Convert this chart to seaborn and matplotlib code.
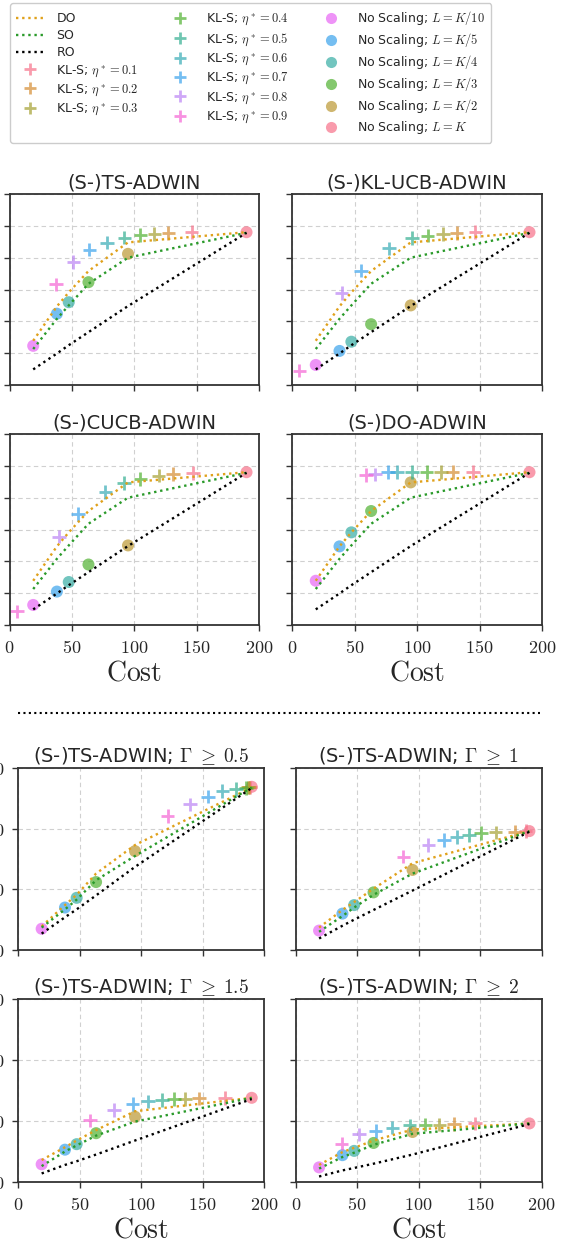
import numpy as np
import pandas as pd
import matplotlib
matplotlib.use("Agg")
import matplotlib.pyplot as plt
import seaborn as sns
from matplotlib.lines import Line2D
from matplotlib.ticker import FuncFormatter

# ========================== data ==========================
# cost of each scaling level (K = 190)
COST = [19, 38, 47.5, 63.3, 95, 190]
SCALE_NAMES = [r"No Scaling; $L = K/10$", r"No Scaling; $L = K/5$", r"No Scaling; $L = K/4$",
               r"No Scaling; $L = K/3$", r"No Scaling; $L = K/2$", r"No Scaling; $L = K$"]
ETA_NAMES = [r"KL-S; $\eta^* = 0.%d$" % i for i in range(1, 10)]

# oracle curves, top block (shared by the four algorithms)
DO_TOP = [13.9, 24.7, 29.1, 35.8, 44.8, 48.0]
SO_TOP = [11.3, 20.8, 25.0, 31.8, 40.0, 47.8]
RO_TOP = [4.9, 9.9, 12.5, 16.6, 24.8, 47.8]

# (S-)TS-ADWIN
TS_CIRC = [12.3, 22.4, 26.0, 32.3, 41.2, 48.0]
TS_PX = [146, 127.4, 116.2, 104.9, 92.1, 78, 64.1, 51.3, 37.4]
TS_PY = [48.1, 47.7, 47.5, 47.1, 46.3, 44.7, 42.5, 38.6, 31.6]
# (S-)KL-UCB-ADWIN
KL_CIRC = [6.3, 10.7, 13.6, 19.1, 25.0, 48.0]
KL_PX = [146.7, 131.6, 120.9, 108.4, 96.1, 77.8, 55.1, 39.7, 5.9]
KL_PY = [48.1, 47.7, 47.5, 46.9, 46.1, 42.9, 35.9, 28.9, 4.5]
# (S-)CUCB-ADWIN
CU_CIRC = [6.3, 10.5, 13.5, 19.0, 25.0, 48.0]
CU_PX = [147.1, 131.1, 119.6, 104.9, 91.9, 76.9, 54.7, 39.5, 5.9]
CU_PY = [47.8, 47.5, 46.9, 45.9, 44.6, 41.8, 34.8, 27.8, 4.3]
# (S-)DO-ADWIN
DOA_CIRC = [13.9, 24.7, 29.1, 35.8, 44.8, 48.0]
DOA_PX = [144.6, 128.4, 119.0, 107.6, 96.1, 84.2, 76.7, 66.3, 59.1]
DOA_PY = [48.0, 48.0, 48.0, 48.0, 48.0, 48.0, 48.0, 47.3, 47.1]

# (S-)TS-ADWIN with Gamma thresholds
G05_DO = [3.9, 7.4, 9.1, 12.6, 17.3, 26.8]
G05_SO = [3.7, 6.7, 8.3, 11.5, 15.5, 26.8]
G05_RO = [2.7, 5.4, 6.7, 9.0, 13.7, 26.7]
G05_CIRC = [3.5, 7.0, 8.6, 11.2, 16.3, 26.9]
G05_PX = [189, 188, 187, 185.3, 177.2, 166.1, 154.4, 139.8, 121.6]
G05_PY = [26.8, 26.8, 26.8, 26.7, 26.5, 26.2, 25.3, 24.0, 22.1]

G1_DO = [3.7, 6.6, 7.9, 10.1, 14.3, 19.6]
G1_SO = [3.0, 5.6, 7.0, 9.1, 12.6, 19.6]
G1_RO = [1.9, 4.0, 5.0, 6.6, 9.8, 19.5]
G1_CIRC = [3.2, 6.0, 7.4, 9.5, 13.2, 19.6]
G1_PX = [187, 178.3, 162.6, 150.7, 140.9, 130.9, 120.6, 107.9, 87.5]
G1_PY = [19.6, 19.5, 19.4, 19.3, 19.0, 18.6, 18.1, 17.3, 15.4]

G15_DO = [3.6, 5.7, 6.8, 8.5, 11.6, 13.8]
G15_SO = [2.6, 5.0, 6.0, 7.6, 9.9, 13.8]
G15_RO = [1.4, 2.8, 3.4, 4.5, 6.8, 13.6]
G15_CIRC = [2.9, 5.3, 6.2, 8.0, 10.7, 13.8]
G15_PX = [168.3, 147.2, 135.5, 126.6, 116.8, 105.7, 93.0, 77.8, 58.3]
G15_PY = [13.8, 13.7, 13.6, 13.6, 13.4, 13.2, 12.8, 11.8, 10.1]

G2_DO = [2.8, 4.9, 5.6, 6.8, 8.6, 9.6]
G2_SO = [2.2, 4.1, 4.8, 6.1, 7.9, 9.6]
G2_RO = [0.9, 1.9, 2.3, 3.0, 4.5, 9.5]
G2_CIRC = [2.4, 4.4, 5.1, 6.4, 8.2, 9.6]
G2_PX = [145.8, 128.5, 116.8, 105.4, 92.7, 78.6, 65.0, 51.5, 37.4]
G2_PY = [9.6, 9.5, 9.4, 9.4, 9.3, 8.9, 8.4, 7.8, 6.3]

# ========================== style ==========================
sns.set_style("ticks")
plt.rcParams["font.family"] = ["DejaVu Sans"]
plt.rcParams["mathtext.fontset"] = "cm"

DO_COLOR = "#e0a11b"
SO_COLOR = "#2a9a2a"
RO_COLOR = "black"
PLUS_COLORS = sns.color_palette("husl", 9)
CIRC_COLORS = sns.color_palette("husl", 6)[::-1]
DOTS = (0, (1, 1.6))

W, H = 565, 1245
fig = plt.figure(figsize=(W / 100, H / 100), dpi=100)


def rect(x0, x1, ytop, ybot):
    return [x0 / W, 1 - ybot / H, (x1 - x0) / W, (ybot - ytop) / H]


def draw(ax, title, circ, px, py, do, so, ro, ymax, xlab, ylab):
    sns.scatterplot(x=COST, y=circ, hue=SCALE_NAMES, hue_order=SCALE_NAMES, palette=CIRC_COLORS,
                    s=75, alpha=0.7, linewidth=0, legend=False, ax=ax, zorder=2)
    sns.scatterplot(x=px, y=py, hue=ETA_NAMES, hue_order=ETA_NAMES, palette=PLUS_COLORS,
                    marker="+", s=95, linewidth=2, alpha=0.7, legend=False, ax=ax, zorder=2)
    for vals, col in [(do, DO_COLOR), (so, SO_COLOR), (ro, RO_COLOR)]:
        sns.lineplot(x=COST, y=vals, color=col, linestyle=DOTS, linewidth=1.7, ax=ax, zorder=3)
    ax.set_xlim(0, 200)
    ax.set_ylim(0, ymax)
    ax.set_xticks([0, 50, 100, 150, 200])
    ax.set_yticks(np.arange(0, ymax + 1, 10))
    fmt = FuncFormatter(lambda v, p: r"$%g$" % v)
    ax.xaxis.set_major_formatter(fmt)
    ax.yaxis.set_major_formatter(fmt)
    ax.grid(True, linestyle=(0, (4, 3)), color="#d0d0d0", linewidth=0.8)
    ax.set_axisbelow(True)
    for sp in ax.spines.values():
        sp.set_color("#333333")
        sp.set_linewidth(1.3)
    ax.tick_params(length=4, width=1, pad=6, labelsize=13, color="#333333",
                   labelbottom=xlab, labelleft=ylab)
    ax.set_title(title, fontsize=14, pad=4)
    if xlab:
        ax.set_xlabel(r"$\mathrm{Cost}$", fontsize=20, labelpad=1)
    else:
        ax.set_xlabel("")


# y tick labels of the top block lie outside the picture in the reference: not drawn
top = [
    ("(S-)TS-ADWIN", TS_CIRC, TS_PX, TS_PY, rect(9.5, 259, 194, 385), False),
    ("(S-)KL-UCB-ADWIN", KL_CIRC, KL_PX, KL_PY, rect(292, 542, 194, 385), False),
    ("(S-)CUCB-ADWIN", CU_CIRC, CU_PX, CU_PY, rect(9.5, 259, 434, 625), True),
    ("(S-)DO-ADWIN", DOA_CIRC, DOA_PX, DOA_PY, rect(292, 542, 434, 625), True),
]
for title, circ, px, py, r, xl in top:
    ax = fig.add_axes(r)
    draw(ax, title, circ, px, py, DO_TOP, SO_TOP, RO_TOP, 60, xl, False)

bottom = [
    (r"(S-)TS-ADWIN; $\Gamma \;\geq\; 0.5$", G05_CIRC, G05_PX, G05_PY, G05_DO, G05_SO, G05_RO,
     rect(18.3, 264, 768, 950), False, True),
    (r"(S-)TS-ADWIN; $\Gamma \;\geq\; 1$", G1_CIRC, G1_PX, G1_PY, G1_DO, G1_SO, G1_RO,
     rect(295.7, 541.7, 768, 950), False, False),
    (r"(S-)TS-ADWIN; $\Gamma \;\geq\; 1.5$", G15_CIRC, G15_PX, G15_PY, G15_DO, G15_SO, G15_RO,
     rect(18.3, 264, 999, 1182), True, True),
    (r"(S-)TS-ADWIN; $\Gamma \;\geq\; 2$", G2_CIRC, G2_PX, G2_PY, G2_DO, G2_SO, G2_RO,
     rect(295.7, 541.7, 999, 1182), True, False),
]
for title, circ, px, py, do, so, ro, r, xl, yl in bottom:
    ax = fig.add_axes(r)
    draw(ax, title, circ, px, py, do, so, ro, 30, xl, yl)

# separator between the two blocks
fig.add_artist(Line2D([18 / W, 540 / W], [1 - 713 / H, 1 - 713 / H], transform=fig.transFigure,
                      color="black", linestyle=DOTS, linewidth=1.5))

# ========================== legend ==========================
handles = [Line2D([], [], color=c, linestyle=DOTS, linewidth=1.7) for c in (DO_COLOR, SO_COLOR, RO_COLOR)]
labels = ["DO", "SO", "RO"]
for name, c in zip(ETA_NAMES, PLUS_COLORS):
    handles.append(Line2D([], [], color=c, marker="+", linestyle="", markersize=9,
                          markeredgewidth=2, alpha=0.7))
    labels.append(name)
for name, c in zip(SCALE_NAMES, CIRC_COLORS):
    handles.append(Line2D([], [], color=c, marker="o", linestyle="", markersize=8,
                          markeredgewidth=0, alpha=0.7))
    labels.append(name)

fig.legend(handles, labels, ncol=3, loc="upper left", bbox_to_anchor=(10 / W, 1 - 3 / H),
           bbox_transform=fig.transFigure, borderaxespad=0, fontsize=9, frameon=True,
           edgecolor="#cccccc", framealpha=1, fancybox=True, handlelength=2.2,
           handletextpad=1.0, columnspacing=2.2, labelspacing=0.32, borderpad=0.5)

plt.savefig("out.png", dpi=100)
plt.close()
